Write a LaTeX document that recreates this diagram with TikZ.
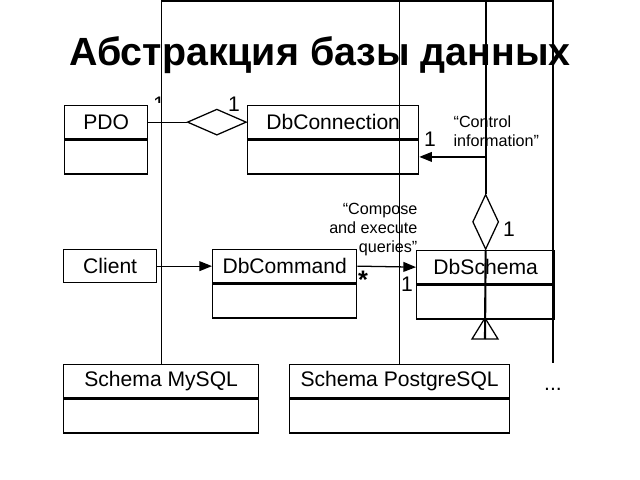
\documentclass[tikz,border=0pt]{standalone}
\usepackage{fontspec}
\setmainfont{Liberation Sans}
\usetikzlibrary{positioning,shapes.geometric,arrows.meta}

\begin{document}
\begin{tikzpicture}[x=0.025cm,y=-0.025cm,line width=0.9pt,
  every node/.style={inner sep=0pt},
  head/.style={draw,minimum width=#1,minimum height=0.825cm,font=\fontsize{15}{18}\selectfont},
  body/.style={draw,minimum width=#1,minimum height=0.85cm},
  agg/.style={draw,diamond},
  lbl/.style={font=\fontsize{15}{18}\selectfont},
  note/.style={font=\fontsize{11.5}{13.5}\selectfont,align=#1},
  nav/.style={-{Triangle[length=9pt,width=7pt]}}]
\useasboundingbox (0,0) rectangle (640,480);
\node[font=\fontsize{28}{32}\selectfont\bfseries,anchor=base] (title) at (320,65) {Абстракция базы данных};

\node[head=2.075cm,anchor=north west] (pdo) at (64,105) {PDO};
\node[body=2.075cm,below=0pt of pdo] (pdobody) {};
\node[head=4.275cm,anchor=north west] (conn) at (247,105) {DbConnection};
\node[body=4.275cm,below=0pt of conn] (connbody) {};
\node[head=2.325cm,anchor=north west] (client) at (63,249) {Client};
\node[head=3.6cm,anchor=north west] (cmd) at (212,249) {DbCommand};
\node[body=3.6cm,below=0pt of cmd] (cmdbody) {};
\node[head=3.45cm,anchor=north west] (schema) at (416,250) {DbSchema};
\node[body=3.45cm,below=0pt of schema] (schemabody) {};
\node[head=4.875cm,anchor=north west] (mysql) at (63,364) {Schema MySQL};
\node[body=4.875cm,below=0pt of mysql] (mysqlbody) {};
\node[head=5.5cm,anchor=north west] (pgsql) at (289,364) {Schema PostgreSQL};
\node[body=5.5cm,below=0pt of pgsql] (pgsqlbody) {};
\node[lbl] (more) at (553,389) {...};

\node[agg,minimum width=1.475cm,minimum height=0.65cm,anchor=east] (aggconn) at (conn.west) {};
\node[agg,minimum width=0.65cm,minimum height=1.375cm,anchor=south] (aggschema) at (schema.north) {};

\coordinate (top) at (0,1);
\coordinate (dotsend) at (553,363);
\coordinate (genapex) at (485,318);
\coordinate (genbase) at (485,339);

\draw (pdo.east) -- (aggconn.west);
\draw[nav] (client.east) -- (cmd.west);
\draw[nav] (cmd.east) -- (schema.west);
\draw[nav] (aggschema.north |- connbody.east) -- (connbody.east);
\draw[line width=1.5pt] (aggschema.north) -- (aggschema.north |- top);
\draw[line width=1.5pt] (aggschema.south) -- (genbase);
\draw (genapex) -- ++(-13,21) -- ++(26,0) -- cycle;
\draw (mysql.north) -- (mysql.north |- top) -- (dotsend |- top) -- (dotsend);
\draw (pgsql.north) -- (pgsql.north |- top);

\begin{scope}
\clip (150,90) rectangle (170,102);
\node[lbl] (mpdo) at (159,104.5) {1};
\end{scope}
\node[lbl] (mconn) at (234,104.5) {1};
\node[lbl] (mctrl) at (430,139) {1};
\node[lbl] (mschema) at (509,229) {1};
\node[font=\fontsize{18}{20}\selectfont\bfseries] (mcmd) at (363,280) {*};
\node[lbl] (mcmdschema) at (407,284) {1};
\node[note=left,anchor=north west] (ctrlnote) at (453,115) {“Control\\information”};
\node[note=right,anchor=north east] (cmdnote) at (418,203) {“Compose\\and execute\\queries”};
\end{tikzpicture}
\end{document}
